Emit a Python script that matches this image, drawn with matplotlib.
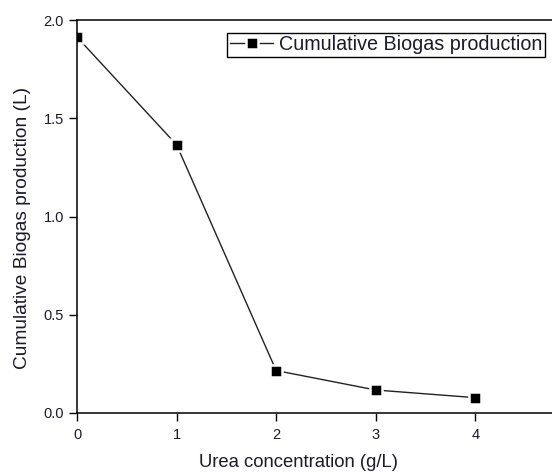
import matplotlib.pyplot as plt

urea = [0, 1, 2, 3, 4]
biogas = [1.913, 1.365, 0.216, 0.117, 0.078]
x_ticks = [0, 1, 2, 3, 4]
y_ticks = [0.0, 0.5, 1.0, 1.5, 2.0]

plt.rcParams['font.family'] = ['Liberation Sans', 'DejaVu Sans']

fig = plt.figure(figsize=(5.52, 4.72), dpi=100)
ax = fig.add_axes([77 / 552, 59 / 472, 1 - 77 / 552, 393 / 472])

ax.plot(urea, biogas, color='#222222', lw=1.0, marker='s', markersize=8,
        markerfacecolor='black', markeredgecolor='white', markeredgewidth=1.8,
        label='Cumulative Biogas production')

ax.set_xlim(0, 4.77)
ax.set_ylim(0, 2.0)
ax.set_xticks(x_ticks)
ax.set_yticks(y_ticks)
ax.set_xticklabels([str(v) for v in x_ticks])
ax.set_yticklabels([f'{v:.1f}' for v in y_ticks])
ax.tick_params(direction='out', length=6, width=1, labelsize=10.5, labelcolor='#1a1a2a')
ax.tick_params(axis='x', pad=5)
ax.spines['right'].set_visible(False)
for s in ['left', 'top', 'bottom']:
    ax.spines[s].set_linewidth(1.1)

ax.set_xlabel('Urea concentration (g/L)', fontsize=13.3, color='#1a1a2a')
ax.set_ylabel('Cumulative Biogas production (L)', fontsize=13.8, color='#1a1a2a')
ax.xaxis.set_label_coords(0.467, -0.105)
ax.yaxis.set_label_coords(-0.097, 0.47)

leg = ax.legend(loc='upper right', bbox_to_anchor=(0.985, 0.967), fontsize=14.2,
                frameon=True, fancybox=False, framealpha=1, handlelength=2.2,
                markerscale=1.0, borderpad=0.12, handletextpad=0.3, borderaxespad=0)
leg.get_frame().set_edgecolor('black')
leg.get_frame().set_linewidth(1.0)
for t in leg.get_texts():
    t.set_color('#1a1a2a')

fig.savefig('out.png', dpi=100)
